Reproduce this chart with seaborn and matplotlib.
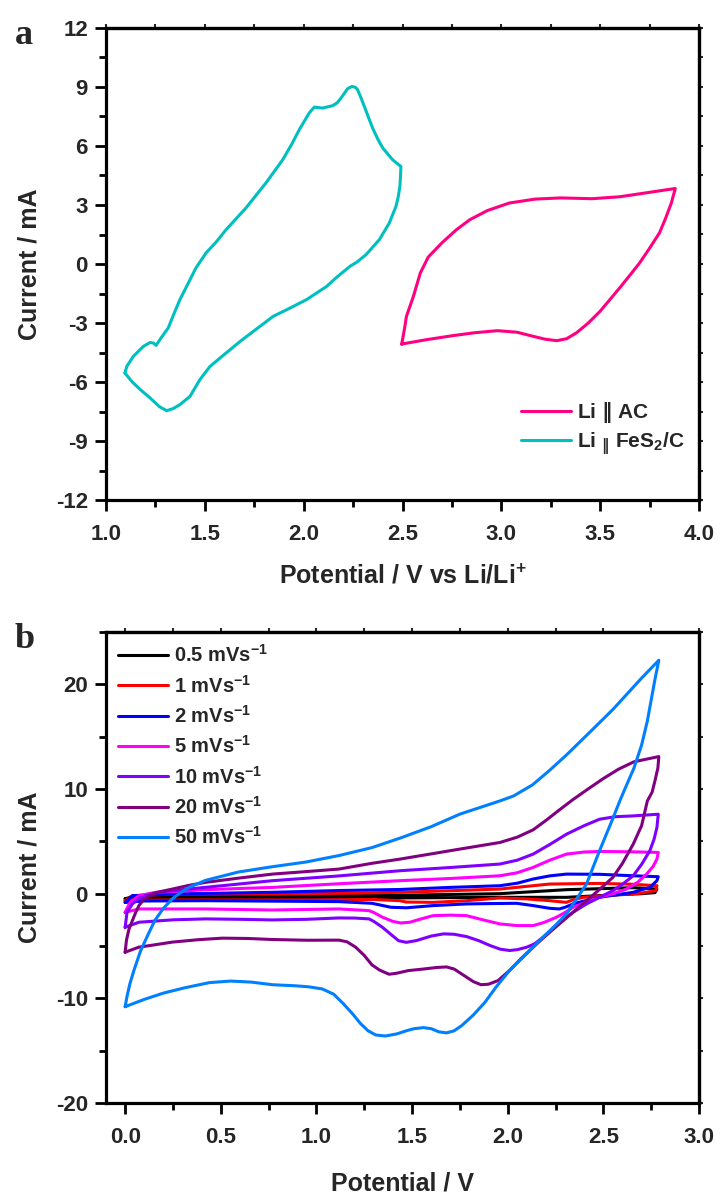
import numpy as np
import pandas as pd
import matplotlib
matplotlib.use("Agg")
import matplotlib.pyplot as plt
from matplotlib.ticker import MultipleLocator, FormatStrFormatter
import seaborn as sns

# ---------------- data: panel a ----------------
ac_x = [2.496, 2.51, 2.52, 2.555, 2.59, 2.63, 2.70, 2.77, 2.84, 2.93, 3.04, 3.17, 3.30, 3.46, 3.60, 3.72, 3.82, 3.88,
        3.86, 3.83, 3.80, 3.75, 3.70, 3.66, 3.60, 3.55, 3.50, 3.44, 3.38, 3.33, 3.28, 3.22, 3.15, 3.08, 2.98, 2.86,
        2.75, 2.62, 2.496]
ac_y = [-4.07, -3.3, -2.66, -1.65, -0.46, 0.35, 1.08, 1.72, 2.25, 2.72, 3.1, 3.3, 3.36, 3.32, 3.42, 3.6, 3.75, 3.84,
        3.1, 2.3, 1.58, 0.8, 0.06, -0.45, -1.2, -1.8, -2.4, -3.0, -3.5, -3.8, -3.9, -3.82, -3.65, -3.47, -3.39, -3.5,
        -3.65, -3.85, -4.07]

fes_x = [1.096, 1.105, 1.138, 1.189, 1.223, 1.24, 1.253, 1.282, 1.315, 1.345, 1.374, 1.425, 1.455, 1.506, 1.56,
         1.607, 1.708, 1.809, 1.894, 1.94, 1.978, 2.028, 2.054, 2.075, 2.096, 2.147, 2.17, 2.189, 2.222, 2.244,
         2.262, 2.273, 2.29, 2.307, 2.33, 2.349, 2.375, 2.40, 2.45, 2.492,
         2.49, 2.487, 2.478, 2.467, 2.433, 2.383, 2.315, 2.27, 2.234, 2.17, 2.116, 2.015, 1.931, 1.846, 1.779,
         1.678, 1.577, 1.526, 1.475, 1.425, 1.374, 1.34, 1.307, 1.27, 1.223, 1.175, 1.13, 1.096]
fes_y = [-5.54, -5.21, -4.70, -4.19, -3.99, -4.02, -4.14, -3.71, -3.25, -2.5, -1.81, -0.80, -0.2, 0.56, 1.15,
         1.74, 2.85, 4.12, 5.30, 6.1, 6.83, 7.68, 7.98, 7.95, 7.93, 8.05, 8.2, 8.44, 8.91, 9.03,
         8.98, 8.86, 8.45, 8.01, 7.4, 6.91, 6.35, 5.90, 5.30, 4.96,
         4.5, 3.95, 3.4, 2.93, 2.08, 1.24, 0.47, 0.1, -0.12, -0.65, -1.14, -1.81, -2.24, -2.66, -3.17,
         -3.94, -4.78, -5.21, -5.88, -6.73, -7.15, -7.35, -7.46, -7.25, -6.81, -6.4, -5.97, -5.54]

# ---------------- data: panel b ----------------
r05_x = [0.00, 0.05, 0.40, 0.77, 1.20, 1.436, 1.959, 2.307, 2.656, 2.78,
         2.77, 2.70, 2.48, 2.307, 1.959, 1.436, 0.77, 0.30, 0.00]
r05_y = [-0.5, -0.2, -0.15, -0.15, -0.15, -0.15, 0.0, 0.38, 0.57, 0.44,
         0.1, 0.0, -0.19, -0.35, -0.35, -0.41, -0.41, -0.4, -0.5]

r1_x = [0.00, 0.04, 0.25, 0.77, 1.20, 1.436, 1.70, 1.959, 2.10, 2.22, 2.48, 2.65, 2.78,
        2.775, 2.70, 2.656, 2.50, 2.394, 2.34, 2.307, 2.22, 2.10, 1.959, 1.785, 1.61, 1.47, 1.436, 1.29, 1.00,
        0.77, 0.30, 0.05, 0.00]
r1_y = [-0.67, -0.2, -0.05, -0.03, 0.05, 0.13, 0.28, 0.44, 0.7, 0.92, 0.98, 0.9, 0.76,
        0.3, 0.05, 0.0, -0.2, -0.35, -0.6, -0.83, -0.67, -0.5, -0.41, -0.67, -0.83, -0.8, -0.67, -0.55, -0.6,
        -0.6, -0.6, -0.62, -0.67]

r2_x = [0.00, 0.038, 0.247, 0.77, 1.12, 1.436, 1.70, 1.959, 2.05, 2.133, 2.22, 2.307, 2.48, 2.656, 2.787,
        2.78, 2.743, 2.656, 2.48, 2.40, 2.342, 2.30, 2.27, 2.22, 2.133, 2.046, 1.90, 1.785, 1.61, 1.47, 1.39,
        1.29, 1.118, 0.42, 0.10, 0.00]
r2_y = [-0.83, -0.19, -0.03, 0.13, 0.3, 0.4, 0.6, 0.76, 1.0, 1.4, 1.7, 1.87, 1.85, 1.71, 1.62,
        1.24, 0.6, 0.13, -0.35, -0.7, -0.98, -1.3, -1.46, -1.4, -1.14, -0.92, -0.95, -0.98, -1.14, -1.35, -1.3,
        -0.92, -0.76, -0.67, -0.7, -0.83]

r5_x = [0.00, 0.026, 0.072, 0.16, 0.45, 0.77, 1.12, 1.436, 1.70, 1.959, 2.05, 2.133, 2.22, 2.307, 2.40, 2.48,
        2.65, 2.787,
        2.78, 2.76, 2.726, 2.68, 2.62, 2.55, 2.48, 2.41, 2.342, 2.30, 2.255, 2.19, 2.133, 2.05, 1.959, 1.87,
        1.785, 1.70, 1.61, 1.54, 1.488, 1.44, 1.40, 1.345, 1.30, 1.275, 1.118, 0.77, 0.42, 0.072, 0.00]
r5_y = [-1.78, -0.83, -0.19, 0.13, 0.4, 0.6, 0.95, 1.24, 1.45, 1.71, 2.0, 2.51, 3.2, 3.78, 3.98, 4.03,
        4.0, 3.94,
        3.3, 2.6, 1.87, 1.1, 0.44, 0.0, -0.35, -0.8, -1.3, -1.8, -2.25, -2.75, -3.05, -3.05, -2.89, -2.5,
        -2.1, -2.05, -2.1, -2.45, -2.73, -2.8, -2.65, -2.25, -1.8, -1.62, -1.46, -1.56, -1.46, -1.46, -1.78]

r10_x = [0.00, 0.01, 0.038, 0.07, 0.107, 0.17, 0.247, 0.50, 0.77, 1.12, 1.436, 1.70, 1.959, 2.05, 2.133, 2.22,
         2.307, 2.40, 2.48, 2.56, 2.656, 2.787,
         2.78, 2.765, 2.743, 2.70, 2.656, 2.60, 2.55, 2.48, 2.412, 2.34, 2.27, 2.185, 2.14, 2.10, 2.05, 2.01,
         1.96, 1.907, 1.85, 1.785, 1.72, 1.665, 1.60, 1.523, 1.47, 1.43, 1.39, 1.345, 1.30, 1.275, 1.20, 1.118,
         0.95, 0.77, 0.60, 0.42, 0.25, 0.072, 0.00]
r10_y = [-3.21, -1.78, -0.98, -0.5, -0.19, 0.12, 0.29, 0.75, 1.24, 1.7, 2.19, 2.5, 2.83, 3.2, 3.78, 4.7,
         5.68, 6.5, 7.11, 7.35, 7.43, 7.59,
         6.32, 5.2, 4.1, 2.8, 1.71, 0.9, 0.29, -0.35, -0.98, -1.8, -2.73, -4.16, -4.8, -5.11, -5.35, -5.43,
         -5.3, -4.95, -4.5, -4.1, -3.88, -3.84, -4.05, -4.48, -4.65, -4.5, -3.9, -3.21, -2.65, -2.41, -2.33, -2.32,
         -2.45, -2.51, -2.45, -2.41, -2.5, -2.73, -3.21]

r20_x = [0.00, 0.007, 0.02, 0.038, 0.055, 0.072, 0.10, 0.142, 0.19, 0.247, 0.33, 0.42, 0.60, 0.77, 0.94, 1.118,
         1.29, 1.436, 1.60, 1.75, 1.959, 2.05, 2.133, 2.20, 2.27, 2.342, 2.42, 2.50, 2.58, 2.66, 2.79,
         2.785, 2.77, 2.755, 2.73, 2.70, 2.656, 2.60, 2.55, 2.48, 2.412, 2.34, 2.27, 2.20, 2.133, 2.07, 2.01,
         1.95, 1.90, 1.86, 1.82, 1.77, 1.72, 1.68, 1.63, 1.56, 1.48, 1.42, 1.38, 1.33, 1.29, 1.25, 1.205, 1.16,
         1.118, 0.95, 0.77, 0.64, 0.508, 0.38, 0.246, 0.15, 0.072, 0.00]
r20_y = [-5.59, -4.44, -3.4, -2.57, -1.8, -1.14, -0.5, -0.03, 0.22, 0.44, 0.78, 1.08, 1.5, 1.87, 2.1, 2.35,
         2.9, 3.3, 3.8, 4.26, 4.89, 5.4, 6.1, 7.0, 8.0, 9.0, 10.0, 11.0, 11.9, 12.6, 13.1,
         12.0, 10.8, 9.7, 8.86, 6.5, 4.73, 2.9, 1.56, 0.4, -0.67, -1.8, -2.89, -4.0, -5.11, -6.2, -7.33,
         -8.3, -8.65, -8.7, -8.4, -7.8, -7.2, -7.0, -7.05, -7.2, -7.35, -7.6, -7.7, -7.3, -6.8, -5.9, -5.11, -4.6,
         -4.44, -4.45, -4.38, -4.28, -4.25, -4.4, -4.63, -4.9, -5.11, -5.59]

r50_x = [0.00, 0.01, 0.025, 0.046, 0.08, 0.12, 0.155, 0.20, 0.246, 0.29, 0.334, 0.42, 0.59, 0.76, 0.944, 1.12,
         1.29, 1.436, 1.60, 1.75, 1.959, 2.03, 2.13, 2.22, 2.31, 2.45, 2.55, 2.62, 2.70, 2.79,
         2.77, 2.75, 2.73, 2.70, 2.66, 2.61, 2.586, 2.55, 2.48, 2.412, 2.36, 2.307, 2.24, 2.167, 2.09, 2.01,
         1.94, 1.88, 1.82, 1.76, 1.72, 1.68, 1.64, 1.60, 1.56, 1.51, 1.47, 1.42, 1.36, 1.31, 1.27, 1.23, 1.19,
         1.14, 1.09, 1.03, 0.96, 0.89, 0.77, 0.66, 0.55, 0.44, 0.31, 0.20, 0.10, 0.00]
r50_y = [-10.8, -9.8, -8.6, -7.33, -5.5, -3.9, -2.57, -1.4, -0.5, 0.1, 0.6, 1.27, 2.06, 2.55, 3.02, 3.65,
         4.4, 5.3, 6.4, 7.6, 8.86, 9.33, 10.4, 11.8, 13.3, 15.8, 17.6, 19.0, 20.6, 22.3,
         20.5, 18.5, 16.5, 14.2, 12.0, 9.9, 8.86, 7.2, 4.1, 0.92, -0.5, -1.94, -3.2, -4.48, -5.9, -7.33,
         -8.9, -10.4, -11.6, -12.6, -13.1, -13.3, -13.2, -12.9, -12.8, -12.9, -13.1, -13.4, -13.6, -13.5, -13.1,
         -12.4, -11.5, -10.5, -9.6, -9.1, -8.9, -8.8, -8.7, -8.45, -8.35, -8.5, -9.0, -9.5, -10.1, -10.8]

rate_labels = ["0.5 mVs$^{-1}$", "1 mVs$^{-1}$", "2 mVs$^{-1}$", "5 mVs$^{-1}$",
               "10 mVs$^{-1}$", "20 mVs$^{-1}$", "50 mVs$^{-1}$"]
rate_colors = ["#000000", "#FF0000", "#0000FF", "#FF00FF", "#8000FF", "#800080", "#0080FF"]
rate_xs = [r05_x, r1_x, r2_x, r5_x, r10_x, r20_x, r50_x]
rate_ys = [r05_y, r1_y, r2_y, r5_y, r10_y, r20_y, r50_y]

cell_labels = [r"Li $\mathsf{\Vert}$ AC", r"Li $_{\mathsf{\Vert}}$ FeS$_2$/C"]
cell_colors = ["#FF0080", "#00BFBF"]

# ---------------- style ----------------
sns.set_style("ticks")
plt.rcParams["font.family"] = ["Liberation Sans", "DejaVu Sans"]
plt.rcParams["font.weight"] = "bold"
plt.rcParams["axes.unicode_minus"] = False
plt.rcParams["mathtext.default"] = "regular"
plt.rcParams["mathtext.fontset"] = "custom"
plt.rcParams["mathtext.rm"] = "Liberation Sans:bold"
plt.rcParams["mathtext.bf"] = "Liberation Sans:bold"
plt.rcParams["mathtext.it"] = "Liberation Sans:bold"
plt.rcParams["mathtext.sf"] = "DejaVu Sans"

TICK_FS = 16
LABEL_FS = 18
LW = 2.2

fig = plt.figure(figsize=(7.2, 12), dpi=100)
ax1 = fig.add_axes([106 / 720, 1 - 500 / 1200, 593 / 720, 472 / 1200])
ax2 = fig.add_axes([106 / 720, 1 - 1103 / 1200, 593 / 720, 471 / 1200])


def style_axes(ax, xmaj, xmin, ymaj, ymin, xfmt, yfmt):
    for sp in ax.spines.values():
        sp.set_linewidth(2.3)
        sp.set_color("black")
        sp.set_visible(True)
    ax.xaxis.set_major_locator(MultipleLocator(xmaj))
    ax.xaxis.set_minor_locator(MultipleLocator(xmin))
    ax.yaxis.set_major_locator(MultipleLocator(ymaj))
    ax.yaxis.set_minor_locator(MultipleLocator(ymin))
    ax.xaxis.set_major_formatter(FormatStrFormatter(xfmt))
    ax.yaxis.set_major_formatter(FormatStrFormatter(yfmt))
    ax.tick_params(which="major", direction="out", length=8, width=2, labelsize=TICK_FS, pad=5,
                   bottom=True, left=True, top=False, right=False, color="black")
    ax.tick_params(which="minor", direction="out", length=5, width=2,
                   bottom=True, left=True, top=False, right=False, color="black")
    ax.tick_params(axis="x", which="major", pad=9)
    for lab in ax.get_xticklabels() + ax.get_yticklabels():
        lab.set_fontweight("bold")
    sx = ax.secondary_xaxis("top")
    sx.xaxis.set_major_locator(MultipleLocator(xmaj))
    sx.xaxis.set_minor_locator(MultipleLocator(xmin))
    sx.tick_params(which="both", direction="out", length=3, width=1.5, labeltop=False)
    sx.spines["top"].set_linewidth(2.3)
    sy = ax.secondary_yaxis("right")
    sy.yaxis.set_major_locator(MultipleLocator(ymaj))
    sy.yaxis.set_minor_locator(MultipleLocator(ymin))
    sy.tick_params(which="both", direction="out", length=3, width=1.5, labelright=False)
    sy.spines["right"].set_linewidth(2.3)


# ---------------- panel a ----------------
sns.lineplot(x=ac_x, y=ac_y, sort=False, estimator=None, color=cell_colors[0], lw=LW, ax=ax1,
             label=cell_labels[0])
sns.lineplot(x=fes_x, y=fes_y, sort=False, estimator=None, color=cell_colors[1], lw=LW, ax=ax1,
             label=cell_labels[1])
ax1.set_xlim(1.0, 4.0)
ax1.set_ylim(-12, 12)
style_axes(ax1, 0.5, 0.25, 3, 1.5, "%.1f", "%d")
ax1.set_xlabel("Potential / V vs Li/Li$^{+}$", fontsize=LABEL_FS, fontweight="bold", va="top")
ax1.set_ylabel("Current / mA", fontsize=LABEL_FS, fontweight="bold")
ax1.xaxis.set_label_coords(0.5, -0.135)
ax1.yaxis.set_label_coords(-0.108, 0.5)
leg1 = ax1.legend(loc="upper left", bbox_to_anchor=(0.70, 0.212), frameon=False, fontsize=15,
                  handlelength=2.4, handletextpad=0.3, labelspacing=0.25, borderaxespad=0, borderpad=0)
for t in leg1.get_texts():
    t.set_fontweight("bold")
fig.text(15 / 720, 1 - 36 / 1200, "a", fontsize=26, fontweight="bold", family="Liberation Serif",
         ha="left", va="center")

# ---------------- panel b ----------------
for xs, ys, col, lab in zip(rate_xs, rate_ys, rate_colors, rate_labels):
    sns.lineplot(x=xs, y=ys, sort=False, estimator=None, color=col, lw=LW, ax=ax2, label=lab)
ax2.set_xlim(-0.1, 3.0)
ax2.set_ylim(-20, 25)
style_axes(ax2, 0.5, 0.25, 10, 5, "%.1f", "%d")
ax2.set_xlabel("Potential / V", fontsize=LABEL_FS, fontweight="bold", va="top")
ax2.set_ylabel("Current / mA", fontsize=LABEL_FS, fontweight="bold")
ax2.xaxis.set_label_coords(0.5, -0.146)
ax2.yaxis.set_label_coords(-0.108, 0.5)
leg2 = ax2.legend(loc="upper left", bbox_to_anchor=(0.0, 1.0), frameon=False, fontsize=14.5,
                  handlelength=2.5, handletextpad=0.3, labelspacing=0.42, borderaxespad=0.3, borderpad=0.3)
for t in leg2.get_texts():
    t.set_fontweight("bold")
fig.text(15 / 720, 1 - 640 / 1200, "b", fontsize=26, fontweight="bold", family="Liberation Serif",
         ha="left", va="center")

fig.savefig("out.png", dpi=100)
